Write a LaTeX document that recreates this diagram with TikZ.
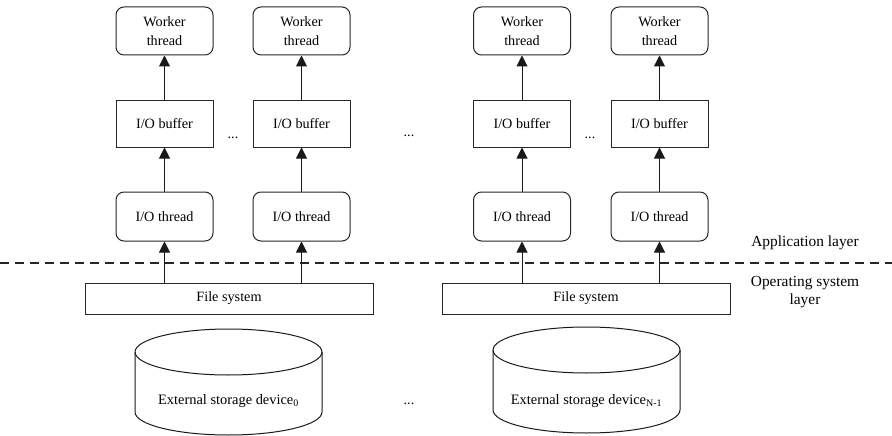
\documentclass[tikz,border=0pt]{standalone}
\usepackage{fontspec}
\setmainfont{Liberation Serif}
\usetikzlibrary{arrows.meta}
\begin{document}
\begin{tikzpicture}[x=1pt,y=-1pt,
  line width=1pt,
  every node/.style={font=\fontsize{14.2}{19}\selectfont},
  rbox/.style={draw=black!85, rounded corners=8pt, minimum width=97pt, inner sep=0pt, align=center},
  sbox/.style={draw=black!85, minimum width=97pt, minimum height=47pt, inner sep=0pt},
  fsbox/.style={draw=black!85, minimum width=288pt, minimum height=31pt, inner sep=0pt},
  up/.style={draw=black!90, -{Triangle[length=11pt,width=11pt]}},
  lbl/.style={align=center, inner sep=0pt},
  layer/.style={align=center, inner sep=0pt, font=\fontsize{15.4}{18}\selectfont}
]
\useasboundingbox (0,0) rectangle (892,436);

% four worker columns: worker thread, I/O buffer, I/O thread
\foreach \n/\x in {a/164.5, b/301.5, c/522, d/659.5}{
  \node[rbox, minimum height=48pt] (w\n) at (\x,31) {Worker\\thread};
  \node[sbox] (b\n) at (\x,123.5) {I/O buffer};
  \node[rbox, minimum height=49pt] (t\n) at (\x,216.5) {I/O thread};
  \draw[up] (b\n.north) -- (w\n.south);
  \draw[up] (t\n.north) -- (b\n.south);
}

% file systems
\node[fsbox] (fs1) at (229,298.5) {File system};
\node[fsbox] (fs2) at (586,298.5) {File system};
\draw[up] (fs1.north -| ta.south) -- (ta.south);
\draw[up] (fs1.north -| tb.south) -- (tb.south);
\draw[up] (fs2.north -| tc.south) -- (tc.south);
\draw[up] (fs2.north -| td.south) -- (td.south);

% layer boundary
\draw[black!85, line width=1.2pt, dash pattern=on 9pt off 6pt] (0,263) -- (892,263);
\node[layer] (app) at (805,243) {Application layer};
\node[layer] (os) at (805,292) {Operating system\\layer};

% ellipsis marks
\node[lbl] (d1) at (233,138) {...};
\node[lbl] (d2) at (590,138) {...};
\node[lbl] (d3) at (409,136) {...};
\node[lbl] (d4) at (409,404) {...};

% storage devices (cylinders)
\foreach \cx/\ty in {228.5/352, 586.5/350}{
  \draw[black!90] (\cx-93.5,\ty) arc[start angle=180, end angle=-180, x radius=93.5, y radius=23];
  \draw[black!90] (\cx-93.5,\ty) -- (\cx-93.5,\ty+60)
     arc[start angle=180, end angle=0, x radius=93.5, y radius=23] -- (\cx+93.5,\ty);
}
\node[lbl, font=\fontsize{14.4}{18}\selectfont] (sd1) at (228.5,401) {External storage device\textsubscript{0}};
\node[lbl, font=\fontsize{14.4}{18}\selectfont] (sd2) at (586.5,401) {External storage device\textsubscript{N-1}};
\end{tikzpicture}
\end{document}
